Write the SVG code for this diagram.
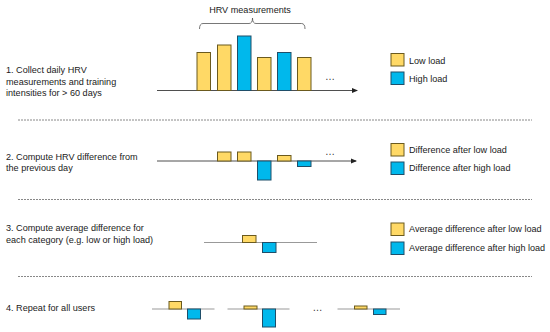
<svg xmlns="http://www.w3.org/2000/svg" width="550" height="332" viewBox="0 0 550 332">
<defs>
<style>
text{font-family:"Liberation Sans",Arial,sans-serif;font-size:9.1px;fill:#1a1a1a}
.lo{fill:#FFD966;stroke:#6b5a1e;stroke-width:1}
.hi{fill:#00B8EC;stroke:#1f4e69;stroke-width:1}
.axis{stroke:#222;stroke-width:0.8;fill:none}
.base{stroke:#999;stroke-width:1;fill:none}
.sep{stroke:#888;stroke-width:1;stroke-dasharray:2 1;fill:none}
.dots{font-size:10px;fill:#333}
</style>
<marker id="arr" markerWidth="6" markerHeight="6" refX="5" refY="3" orient="auto" markerUnits="userSpaceOnUse">
<path d="M0,0.5 L6,3 L0,5.5 Z" fill="#222"/>
</marker>
</defs>
<rect width="550" height="332" fill="#fff"/>

<g id="separators">
<line class="sep" x1="18" y1="120" x2="532" y2="120"/>
<line class="sep" x1="18" y1="199.5" x2="532" y2="199.5"/>
<line class="sep" x1="18" y1="276.5" x2="532" y2="276.5"/>
</g>

<g id="step1">
<text x="6" y="73">1. Collect daily HRV</text>
<text x="6" y="84.5">measurements and training</text>
<text x="6" y="96">intensities for &gt; 60 days</text>
</g>
<g id="hrv-bracket">
<text x="250" y="13" text-anchor="middle">HRV measurements</text>
<path d="M199.5,29 Q199.5,23.5 203,23.5 L249,23.5 Q252.5,23.5 252.5,18 Q252.5,23.5 256,23.5 L301.5,23.5 Q305,23.5 305,29" fill="none" stroke="#555" stroke-width="0.8"/>
</g>
<g id="chart1">
<line class="axis" x1="157" y1="90.5" x2="357" y2="90.5" marker-end="url(#arr)"/>
<rect class="lo" x="197" y="52.5" width="13.5" height="38"/>
<rect class="lo" x="217.5" y="45" width="13.5" height="45.5"/>
<rect class="hi" x="237.5" y="36" width="13.5" height="54.5"/>
<rect class="lo" x="257.5" y="57.5" width="13.5" height="33"/>
<rect class="hi" x="277.5" y="52.5" width="13.5" height="38"/>
<rect class="lo" x="297.5" y="57.5" width="13.5" height="33"/>
<text class="dots" x="330" y="80" text-anchor="middle">…</text>
</g>
<g id="legend1">
<rect class="lo" x="391" y="53.5" width="13" height="12.5"/>
<text x="409" y="64">Low load</text>
<rect class="hi" x="391" y="72" width="13" height="12.5"/>
<text x="409" y="82">High load</text>
</g>

<g id="step2">
<text x="6" y="159.5">2. Compute HRV difference from</text>
<text x="6" y="171">the previous day</text>
</g>
<g id="chart2">
<line class="axis" x1="157" y1="161" x2="356" y2="161" marker-end="url(#arr)"/>
<rect class="lo" x="217.5" y="152" width="13.5" height="9"/>
<rect class="lo" x="237.5" y="152" width="13.5" height="9"/>
<rect class="hi" x="257.5" y="161" width="13.5" height="19"/>
<rect class="lo" x="277.5" y="155.5" width="13.5" height="5.5"/>
<rect class="hi" x="297.5" y="161" width="13.5" height="5.5"/>
<text class="dots" x="330" y="155" text-anchor="middle">…</text>
</g>
<g id="legend2">
<rect class="lo" x="391" y="143.5" width="13" height="12.5"/>
<text x="409" y="153">Difference after low load</text>
<rect class="hi" x="391" y="162" width="13" height="12.5"/>
<text x="409" y="171">Difference after high load</text>
</g>

<g id="step3">
<text x="6" y="231">3. Compute average difference for</text>
<text x="6" y="242.5">each category (e.g. low or high load)</text>
</g>
<g id="chart3">
<line class="base" x1="204" y1="242.5" x2="317" y2="242.5"/>
<rect class="lo" x="242.5" y="235.5" width="13.5" height="7"/>
<rect class="hi" x="262.5" y="242.5" width="13.5" height="10"/>
</g>
<g id="legend3">
<rect class="lo" x="391" y="223" width="13" height="12.5"/>
<text x="409" y="232">Average difference after low load</text>
<rect class="hi" x="391" y="242" width="13" height="12.5"/>
<text x="409" y="250.5">Average difference after high load</text>
</g>

<g id="step4">
<text x="6" y="310.5">4. Repeat for all users</text>
</g>
<g id="user1">
<line class="base" x1="152" y1="309" x2="214.5" y2="309"/>
<rect class="lo" x="169" y="301.5" width="12.5" height="7.5"/>
<rect class="hi" x="187.5" y="309" width="13" height="10"/>
</g>
<g id="user2">
<line class="base" x1="227.5" y1="309" x2="289.5" y2="309"/>
<rect class="lo" x="244" y="306" width="13" height="3"/>
<rect class="hi" x="262.5" y="309" width="13" height="18"/>
</g>
<text class="dots" x="317.5" y="311" text-anchor="middle">…</text>
<g id="user3">
<line class="base" x1="337.5" y1="309" x2="400" y2="309"/>
<rect class="lo" x="354.5" y="306" width="12.5" height="3"/>
<rect class="hi" x="373.5" y="309" width="12.5" height="5.5"/>
</g>
</svg>
